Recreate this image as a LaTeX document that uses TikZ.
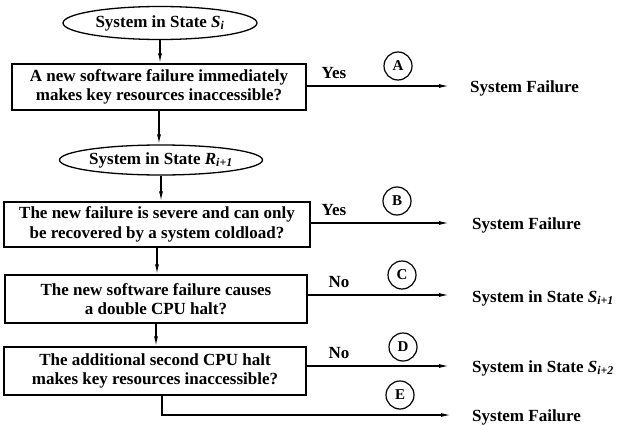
\documentclass[tikz,border=0pt]{standalone}
\usepackage{fontspec}
\setmainfont{Liberation Serif}
\usetikzlibrary{shapes.geometric,arrows.meta}
\begin{document}
\begin{tikzpicture}[x=1pt,y=-1pt,
  every node/.style={font=\fontsize{17}{19.5}\selectfont\bfseries},
  stadium/.style={draw,ellipse,line width=1.3pt,inner sep=0pt},
  decision/.style={draw,rectangle,line width=1.4pt,inner sep=0pt,align=center},
  arr/.style={line width=1.3pt,-{Latex[length=10pt,width=4pt]}},
  tag/.style={draw,circle,line width=1.2pt,minimum size=28pt,inner sep=0pt,font=\fontsize{15}{16}\selectfont\bfseries},
  lab/.style={inner sep=0pt},
  result/.style={anchor=west,inner sep=0pt}]
\useasboundingbox (0,0) rectangle (623,425);
\def\Si#1#2{{\itshape #1}\textsubscript{\itshape #2}}
\node[stadium,minimum width=194pt,minimum height=33pt] (e1) at (160,23) {System in State \Si{S}{i}};
\node[decision,minimum width=294pt,minimum height=46pt] (b1) at (159,87) {A new software failure immediately\\makes key resources inaccessible?};
\node[stadium,minimum width=192pt,minimum height=30pt] (e2) at (161,160) {System in State \Si{R}{i+1}};
\node[decision,minimum width=306pt,minimum height=45pt] (b2) at (157,224.5) {The new failure is severe and can only\\be recovered by a system coldload?};
\node[decision,minimum width=302pt,minimum height=48pt] (b3) at (156,299) {The new software failure causes\\a double CPU halt?};
\node[decision,minimum width=302pt,minimum height=48pt] (b4) at (155,371) {The additional second CPU halt\\makes key resources inaccessible?};

\draw[arr] (e1.south) -- (e1.south |- b1.north);
\draw[arr] (b1.south) -- (b1.south |- e2.north);
\draw[arr] (e2.south) -- (e2.south |- b2.north);
\draw[arr] (b2.south) -- (b2.south |- b3.north);
\draw[arr] (b3.south) -- (b3.south |- b4.north);

\coordinate (tA) at (449,86);
\coordinate (tB) at (449,223);
\coordinate (tC) at (449,295);
\coordinate (tD) at (449,366);
\coordinate (tE) at (451,415);

\draw[arr] (b1.east |- tA) -- (tA);
\draw[arr] (b2.east |- tB) -- (tB);
\draw[arr] (b3.east |- tC) -- (tC);
\draw[arr] (b4.east |- tD) -- (tD);
\draw[arr] ([xshift=7pt]b4.south) |- (tE);

\node[lab] (yA) at (334,73) {Yes};
\node[lab] (yB) at (334,210) {Yes};
\node[lab] (nC) at (339,282) {No};
\node[lab] (nD) at (339,353) {No};

\node[tag] (cA) at (398,66) {A};
\node[tag] (cB) at (397,201) {B};
\node[tag] (cC) at (402,275) {C};
\node[tag] (cD) at (403,347) {D};
\node[tag] (cE) at (400,395) {E};

\node[result] (oA) at (470,88) {System Failure};
\node[result] (oB) at (472,225) {System Failure};
\node[result] (oC) at (472,298) {System in State \Si{S}{i+1}};
\node[result] (oD) at (472,368) {System in State \Si{S}{i+2}};
\node[result] (oE) at (472,417) {System Failure};
\end{tikzpicture}
\end{document}
